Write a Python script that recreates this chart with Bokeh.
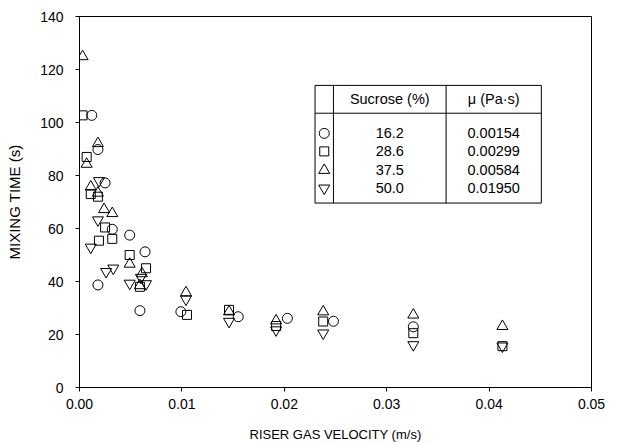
from bokeh.plotting import figure
from bokeh.models import Range1d, FixedTicker, PrintfTickFormatter
from bokeh.core.properties import value
from bokeh.embed import file_html
from bokeh.resources import INLINE

# ---- data ----
circ_x = [0.0012, 0.0018, 0.0025, 0.0032, 0.0049, 0.0064, 0.0018, 0.0059, 0.0099, 0.0155, 0.0203, 0.0248, 0.0326]
circ_y = [102.7, 89.8, 77.2, 59.7, 57.5, 51.2, 38.7, 29.0, 28.6, 26.7, 26.1, 25.0, 22.9]

sq_x = [0.0003, 0.0007, 0.0011, 0.0018, 0.0025, 0.0032, 0.0019, 0.0049, 0.0065, 0.0059, 0.0105, 0.0146, 0.0192, 0.0238, 0.0326, 0.0413]
sq_y = [102.7, 87.0, 73.0, 72.0, 60.4, 56.1, 55.4, 50.0, 45.0, 38.0, 27.4, 29.3, 23.2, 24.9, 20.5, 15.6]

tri_x = [0.0003, 0.0007, 0.0018, 0.0011, 0.0018, 0.0024, 0.0032, 0.0049, 0.0061, 0.0059, 0.0104, 0.0146, 0.0192, 0.0238, 0.0326, 0.0413]
tri_y = [124.9, 84.3, 92.1, 75.7, 73.4, 67.2, 65.7, 46.6, 43.0, 38.5, 35.8, 28.6, 25.2, 28.6, 27.4, 23.1]

inv_x = [0.0019, 0.0018, 0.0011, 0.0026, 0.0033, 0.0049, 0.0065, 0.0060, 0.0104, 0.0146, 0.0192, 0.0238, 0.0326, 0.0413]
inv_y = [78.0, 63.2, 52.9, 43.7, 45.0, 39.3, 39.1, 41.5, 33.3, 24.9, 21.7, 20.5, 16.1, 15.6]

sucrose = ["16.2", "28.6", "37.5", "50.0"]
viscosity = ["0.00154", "0.00299", "0.00584", "0.01950"]
markers = ["circle", "square", "triangle", "inverted_triangle"]
x_ticks = [0.0, 0.01, 0.02, 0.03, 0.04, 0.05]
y_ticks = [0, 20, 40, 60, 80, 100, 120, 140]

FONT = "Liberation Sans"

p = figure(width=631, height=444, output_backend="svg", toolbar_location=None,
           x_range=Range1d(0, 0.05), y_range=Range1d(0, 140),
           min_border_left=79, min_border_right=40, min_border_top=16, min_border_bottom=56)
p.grid.visible = False
p.outline_line_color = "black"
p.outline_line_width = 1
p.background_fill_color = "white"
p.border_fill_color = "white"

for ax in (p.xaxis[0], p.yaxis[0]):
    ax.axis_line_color = "black"
    ax.major_tick_line_color = "black"
    ax.minor_tick_line_color = None
    ax.major_tick_in = 0
    ax.major_tick_out = 4
    ax.major_label_text_font = FONT
    ax.major_label_text_font_size = "14px"
    ax.major_label_text_color = "black"
    ax.axis_label_text_font = FONT
    ax.axis_label_text_font_style = "normal"
    ax.axis_label_text_color = "black"

p.xaxis.axis_label_text_font_size = "13px"
p.yaxis.axis_label_text_font_size = "15px"
p.xaxis.ticker = FixedTicker(ticks=x_ticks)
p.xaxis.formatter = PrintfTickFormatter(format="%.2f")
p.yaxis.ticker = FixedTicker(ticks=y_ticks)
p.xaxis.axis_label = "RISER GAS VELOCITY (m/s)"
p.yaxis.axis_label = "MIXING TIME (s)"
p.xaxis.major_label_standoff = 7
p.yaxis.major_label_standoff = 12
p.xaxis.axis_label_standoff = 15
p.yaxis.axis_label_standoff = 14

style = dict(fill_color=None, line_color="black", line_width=1)
p.scatter(circ_x, circ_y, marker="circle", size=10, **style)
p.scatter(sq_x, sq_y, marker="square", size=9, **style)
p.scatter(tri_x, tri_y, marker="triangle", size=11, **style)
p.scatter(inv_x, inv_y, marker="inverted_triangle", size=11, **style)

# ---- legend table ----
t_left, t_c1, t_c2, t_right = 0.0230, 0.0248, 0.0358, 0.0451
t_top, t_sep, t_bot = 114.0, 103.5, 69.6
row_y = [95.9, 89.1, 82.0, 75.2]
p.quad(left=[t_left], right=[t_right], top=[t_top], bottom=[t_bot],
       fill_color="white", line_color="black", line_width=1)
p.segment(x0=[t_c1, t_c2, t_left], y0=[t_top, t_top, t_sep],
          x1=[t_c1, t_c2, t_right], y1=[t_bot, t_bot, t_sep],
          line_color="black", line_width=1)
sym_x = (t_left + t_c1) / 2
col1_x = (t_c1 + t_c2) / 2
col2_x = (t_c2 + t_right) / 2
sizes = [10, 9, 11, 11]
for m, s, yy in zip(markers, sizes, row_y):
    p.scatter([sym_x], [yy], marker=m, size=s, **style)
head_y = (t_top + t_sep) / 2
txt = dict(text_align="center", text_baseline="middle", text_font=value(FONT),
           text_font_size="14.5px", text_color="black")
p.text(x=[col1_x, col2_x], y=[head_y, head_y], text=["Sucrose (%)", "\u03bc (Pa\u00b7s)"], **txt)
p.text(x=[col1_x] * 4, y=row_y, text=sucrose, **txt)
p.text(x=[col2_x] * 4, y=row_y, text=viscosity, **txt)

open("out.html", "w").write(file_html(p, INLINE))
